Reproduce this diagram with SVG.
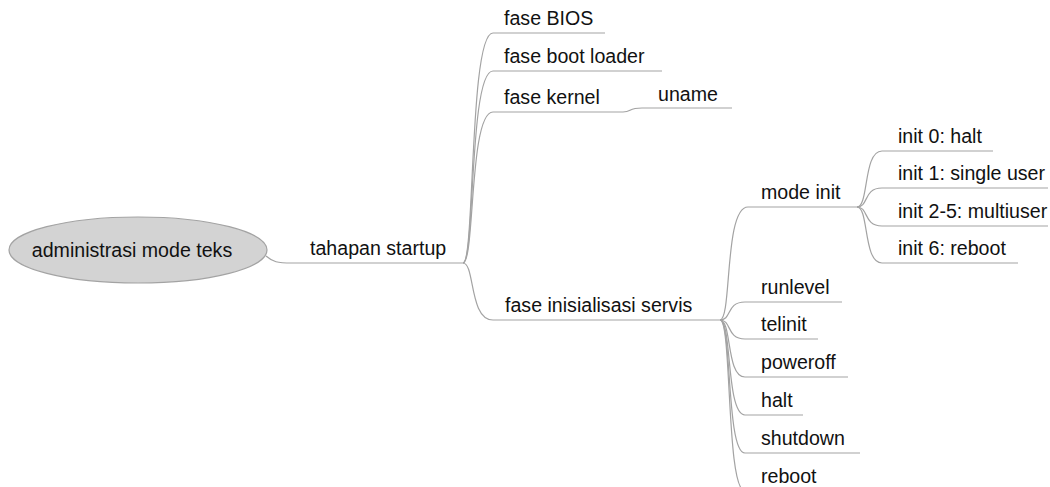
<svg xmlns="http://www.w3.org/2000/svg" width="1050" height="487" viewBox="0 0 1050 487">
<style>
text{font-family:"Liberation Sans",Arial,sans-serif;font-size:19.6px;fill:#111}
.c{fill:none;stroke:#a3a3a3;stroke-width:1.2}
</style>
<rect width="1050" height="487" fill="#fff"/>
<g id="connectors">
<path class="c" d="M266,256 C273,262 277,263 292,263 L463,263"/>
<path class="c" d="M463,263 C475,263 469,33 493,33 L605,33"/>
<path class="c" d="M463,263 C475,263 469,71 493,71 L662,71"/>
<path class="c" d="M463,263 C475,263 469,112 493,112 L623,112"/>
<path class="c" d="M463,263 C475,263 469,320 493,320 L720,320"/>
<path class="c" d="M623,112 C632,112 628,108 642,108 L732,108"/>
<path class="c" d="M720,320 C732,320 724,207 748,207 L857,207"/>
<path class="c" d="M857,207 C869,207 863,151 882,151 L993,151"/>
<path class="c" d="M857,207 C869,207 863,188 882,188 L1048,188"/>
<path class="c" d="M857,207 C869,207 863,226 882,226 L1048,226"/>
<path class="c" d="M857,207 C869,207 863,263 882,263 L1018,263"/>
<path class="c" d="M720,320 C732,320 726,302 745,302 L842,302"/>
<path class="c" d="M720,320 C732,320 726,339 745,339 L818,339"/>
<path class="c" d="M720,320 C732,320 726,377 745,377 L848,377"/>
<path class="c" d="M720,320 C732,320 726,415 745,415 L803,415"/>
<path class="c" d="M720,320 C732,320 726,453 745,453 L860,453"/>
<path class="c" d="M720,320 C732,320 726,491 745,491 L820,491"/>
</g>
<g id="root">
<ellipse cx="138" cy="250" rx="129" ry="33" fill="#d3d3d3" stroke="#a3a3a3" stroke-width="1.2"/>
<text x="132" y="257" text-anchor="middle">administrasi mode teks</text>
</g>
<g id="tahapan"><text x="310" y="255">tahapan startup</text></g>
<g id="bios"><text x="504" y="25">fase BIOS</text></g>
<g id="bootloader"><text x="504" y="63">fase boot loader</text></g>
<g id="kernel"><text x="504" y="104">fase kernel</text></g>
<g id="uname"><text x="658" y="101">uname</text></g>
<g id="servis"><text x="505" y="312">fase inisialisasi servis</text></g>
<g id="modeinit"><text x="761" y="199">mode init</text></g>
<g id="init0"><text x="898" y="143">init 0: halt</text></g>
<g id="init1"><text x="898" y="180">init 1: single user</text></g>
<g id="init25"><text x="898" y="218">init 2-5: multiuser</text></g>
<g id="init6"><text x="898" y="255">init 6: reboot</text></g>
<g id="runlevel"><text x="761" y="294">runlevel</text></g>
<g id="telinit"><text x="761" y="331">telinit</text></g>
<g id="poweroff"><text x="761" y="369">poweroff</text></g>
<g id="halt"><text x="761" y="407">halt</text></g>
<g id="shutdown"><text x="761" y="445">shutdown</text></g>
<g id="reboot"><text x="761" y="483">reboot</text></g>
</svg>
